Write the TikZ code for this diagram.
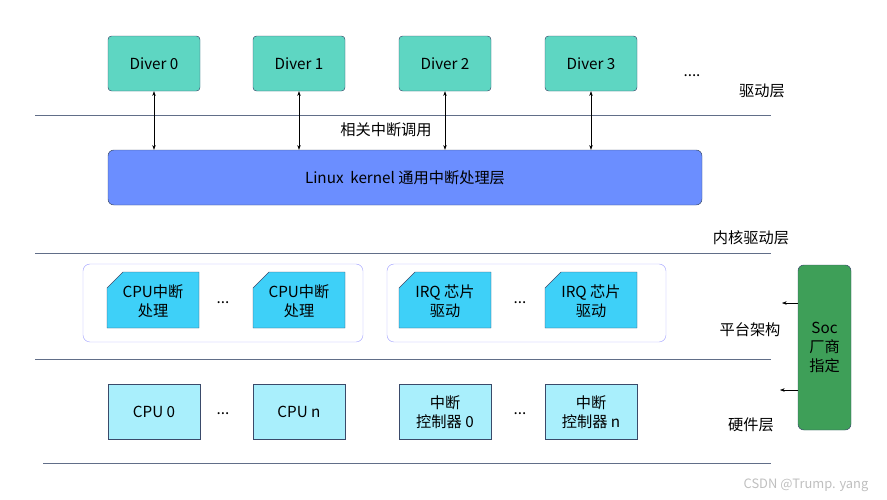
\documentclass[tikz,border=0pt]{standalone}
\usepackage{fontspec}
\setmainfont{Noto Sans CJK SC}
\usetikzlibrary{arrows.meta}
\definecolor{drvgreen}{HTML}{5ED6C2}
\definecolor{kblue}{HTML}{6B8EFF}
\definecolor{chipblue}{HTML}{3ED0F8}
\definecolor{hwblue}{HTML}{A9EFFC}
\definecolor{socgreen}{HTML}{3E9F58}
\definecolor{edge}{HTML}{3A4A6A}
\tikzset{
  box/.style={draw=edge, thin, minimum width=92*0.03cm, minimum height=55*0.03cm, align=center, font=\fontsize{13}{16}\selectfont},
  drv/.style={box, fill=drvgreen, rounded corners=3pt},
  hw/.style={box, fill=hwblue},
  sep/.style={draw=edge!80, line width=0.8pt},
  lay/.style={font=\fontsize{13}{16}\selectfont},
}
\begin{document}
\begin{tikzpicture}[x=0.03cm, y=-0.03cm]
\useasboundingbox (0,0) rectangle (887,500);
% drivers
\foreach \i/\x in {0/154, 1/299, 2/445, 3/591} {
  \node[drv] (d\i) at (\x,63.5) {Diver \i};
}
\node[lay] (dots) at (692,76) {....};
\node[lay] (ldrv) at (762,91) {驱动层};
\draw[sep] (35,115) -- (771,115);
\node[lay, fill=white, inner sep=1pt] (call) at (386,130) {相关中断调用};
% kernel
\node[box, fill=kblue, rounded corners=5pt, minimum width=594*0.03cm] (kern) at (405,177.5) {Linux\ \ kernel 通用中断处理层};
\foreach \i in {0,1,2,3} {
  \draw[{Stealth[length=4pt]}-{Stealth[length=4pt]}, thin] (d\i) -- (d\i |- kern.north);
}
\node[lay] (lker) at (751,238) {内核驱动层};
\draw[sep] (35,253) -- (771,253);
% platform groups
\draw[draw=blue!35, rounded corners=6pt] (83,264) rectangle (363,342);
\draw[draw=blue!35, rounded corners=6pt] (387,264) rectangle (666,342);
\foreach \n/\x/\t in {c0/107/CPU中断\\处理, c1/253/CPU中断\\处理, q0/399/IRQ 芯片\\驱动, q1/545/IRQ 芯片\\驱动} {
  \draw[draw=edge, fill=chipblue] (\x+16,272) -- (\x+92,272) -- (\x+92,328) -- (\x,328) -- (\x,288) -- cycle;
  \node[lay, align=center] (\n) at (\x+46,301) {\t};
}
\node[lay] (pd0) at (223,303) {...};
\node[lay] (pd1) at (520,303) {...};
\node[lay] (lplat) at (750,330) {平台架构};
\draw[sep] (35,359) -- (771,359);
% hardware
\node[hw] (cpu0) at (154,412) {CPU 0};
\node[hw] (cpun) at (299,412) {CPU n};
\node[hw] (ic0) at (445,412) {中断\\控制器 0};
\node[hw] (icn) at (591,412) {中断\\控制器 n};
\node[lay] (hd0) at (223,414) {...};
\node[lay] (hd1) at (520,414) {...};
\node[lay] (lhw) at (751,425) {硬件层};
\draw[sep] (43,463) -- (771,463);
% soc
\node[box, fill=socgreen, rounded corners=5pt, minimum width=53*0.03cm, minimum height=165*0.03cm] (soc) at (824.5,347.5) {Soc\\厂商\\指定};
\coordinate (a1) at (782,303);
\coordinate (a2) at (780,390);
\draw[-{Stealth[length=4pt]}, thin] (soc.west |- a1) -- (a1);
\draw[-{Stealth[length=4pt]}, thin] (soc.west |- a2) -- (a2);
\node[text=gray!50, font=\fontsize{11}{13}\selectfont] (mark) at (806,485) {CSDN @Trump. yang};
\end{tikzpicture}
\end{document}
